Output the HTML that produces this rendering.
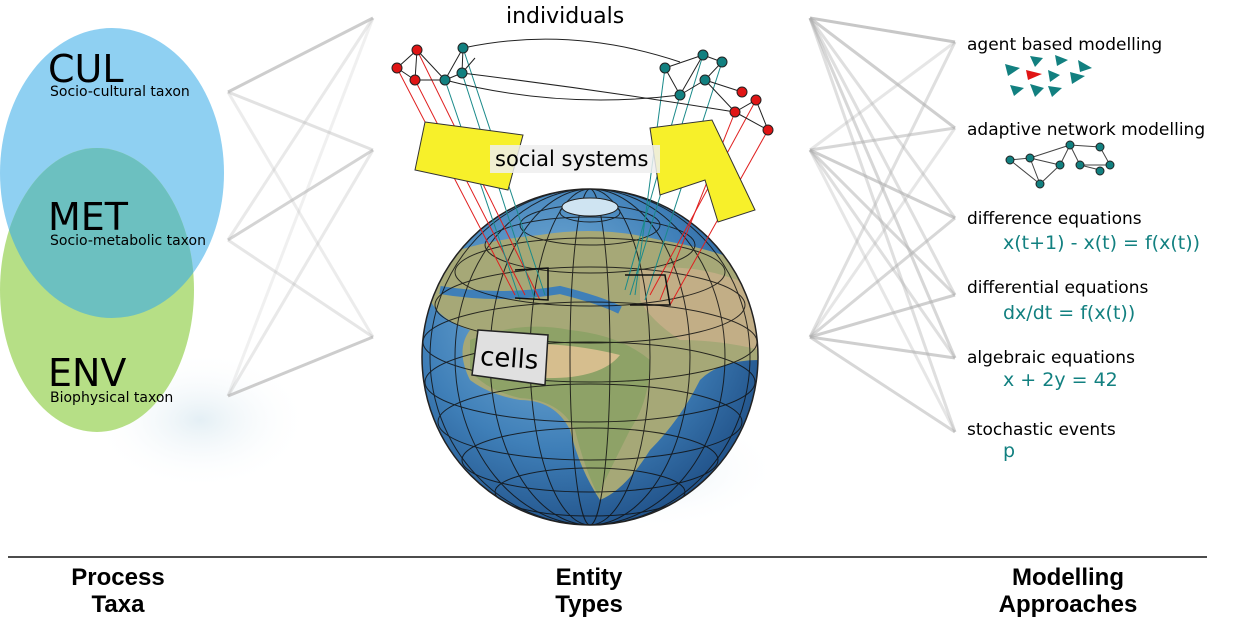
<!DOCTYPE html>
<html><head><meta charset="utf-8">
<style>
html,body{margin:0;padding:0;background:#fff;}
svg{display:block;font-family:"DejaVu Sans","Liberation Sans",sans-serif;}
</style></head>
<body>
<svg width="1236" height="627" viewBox="0 0 1236 627" xmlns="http://www.w3.org/2000/svg">
<defs>
<radialGradient id="globeG" cx="0.4" cy="0.35" r="0.7">
<stop offset="0" stop-color="#7fb6dc"/><stop offset="0.6" stop-color="#3f7fb8"/><stop offset="1" stop-color="#1f4f86"/>
</radialGradient>
<radialGradient id="glow" cx="0.5" cy="0.5" r="0.5">
<stop offset="0" stop-color="#d8e8f0" stop-opacity="0.7"/><stop offset="1" stop-color="#fff" stop-opacity="0"/>
</radialGradient>
<clipPath id="gc"><circle cx="590" cy="357" r="168"/></clipPath>
</defs>

<g>
<ellipse cx="200" cy="420" rx="110" ry="70" fill="url(#glow)"/>
<ellipse cx="112" cy="173" rx="112" ry="145" fill="#8fd0f2"/>
<ellipse cx="97" cy="290" rx="97" ry="142" fill="#b6df86"/>
<clipPath id="cc"><ellipse cx="112" cy="173" rx="112" ry="145"/></clipPath>
<ellipse cx="97" cy="290" rx="97" ry="142" fill="#6cc0c0" clip-path="url(#cc)"/>
<text x="48" y="82" font-size="38" fill="#000">CUL</text>
<text x="50" y="96" font-size="14">Socio-cultural taxon</text>
<text x="48" y="230" font-size="38">MET</text>
<text x="50" y="245" font-size="14">Socio-metabolic taxon</text>
<text x="48" y="386" font-size="38">ENV</text>
<text x="50" y="402" font-size="14">Biophysical taxon</text>
</g>

<g stroke="#b8b8b8" stroke-width="3">
<line x1="228" y1="92" x2="373" y2="18" opacity="0.7"/><line x1="228" y1="92" x2="373" y2="150" opacity="0.4"/><line x1="228" y1="92" x2="373" y2="337" opacity="0.25"/>
<line x1="228" y1="240" x2="373" y2="18" opacity="0.3"/><line x1="228" y1="240" x2="373" y2="150" opacity="0.6"/><line x1="228" y1="240" x2="373" y2="337" opacity="0.35"/>
<line x1="228" y1="396" x2="373" y2="18" opacity="0.2"/><line x1="228" y1="396" x2="373" y2="150" opacity="0.3"/><line x1="228" y1="396" x2="373" y2="337" opacity="0.7"/>
</g>

<g stroke="#b0b0b0" stroke-width="3">
<line x1="810" y1="18" x2="955" y2="42" opacity="0.7"/><line x1="810" y1="18" x2="955" y2="128" opacity="0.6"/><line x1="810" y1="18" x2="955" y2="218" opacity="0.4"/><line x1="810" y1="18" x2="955" y2="295" opacity="0.4"/><line x1="810" y1="18" x2="955" y2="358" opacity="0.5"/><line x1="810" y1="18" x2="955" y2="432" opacity="0.4"/>
<line x1="810" y1="150" x2="955" y2="42" opacity="0.3"/><line x1="810" y1="150" x2="955" y2="128" opacity="0.5"/><line x1="810" y1="150" x2="955" y2="218" opacity="0.6"/><line x1="810" y1="150" x2="955" y2="295" opacity="0.5"/><line x1="810" y1="150" x2="955" y2="358" opacity="0.4"/><line x1="810" y1="150" x2="955" y2="432" opacity="0.3"/>
<line x1="810" y1="337" x2="955" y2="42" opacity="0.4"/><line x1="810" y1="337" x2="955" y2="128" opacity="0.3"/><line x1="810" y1="337" x2="955" y2="218" opacity="0.5"/><line x1="810" y1="337" x2="955" y2="295" opacity="0.6"/><line x1="810" y1="337" x2="955" y2="358" opacity="0.6"/><line x1="810" y1="337" x2="955" y2="432" opacity="0.5"/>
</g>

<g>
<ellipse cx="650" cy="470" rx="130" ry="60" fill="url(#glow)"/>
<circle cx="590" cy="357" r="168" fill="url(#globeG)"/>
<g clip-path="url(#gc)">
<path d="M430,260 Q480,240 540,235 Q600,225 660,240 Q720,250 760,270 L760,360 Q720,360 700,380 Q680,420 650,450 Q625,490 600,500 Q580,470 570,430 Q555,400 520,400 Q490,395 470,380 Q455,350 470,330 Q440,320 430,300Z" fill="#a6a877"/>
<path d="M470,340 Q520,320 570,330 Q620,335 650,360 Q650,400 630,430 Q610,470 598,495 Q585,470 575,430 Q560,400 520,398 Q485,390 470,370Z" fill="#8ea267"/>
<path d="M500,345 Q560,340 620,355 Q600,380 540,378Z" fill="#d6be8e"/>
<path d="M640,270 Q700,260 760,290 L760,350 Q720,340 680,340 Q650,320 640,300Z" fill="#c2ae86"/>
<path d="M440,290 Q500,300 560,290 Q600,300 620,310" stroke="#3f7fb8" stroke-width="8" fill="none"/>
<g stroke="#111" stroke-width="1" fill="none" opacity="0.85">
<ellipse cx="590" cy="357" rx="20" ry="168"/><ellipse cx="590" cy="357" rx="60" ry="168"/><ellipse cx="590" cy="357" rx="100" ry="168"/><ellipse cx="590" cy="357" rx="135" ry="168"/><ellipse cx="590" cy="357" rx="160" ry="168"/>
<ellipse cx="590" cy="212" rx="30" ry="10"/><ellipse cx="590" cy="225" rx="70" ry="20"/><ellipse cx="590" cy="245" rx="105" ry="28"/><ellipse cx="590" cy="272" rx="135" ry="34"/><ellipse cx="590" cy="305" rx="155" ry="38"/><ellipse cx="590" cy="342" rx="167" ry="40"/><ellipse cx="590" cy="382" rx="165" ry="40"/><ellipse cx="590" cy="422" rx="152" ry="38"/><ellipse cx="590" cy="460" rx="128" ry="32"/><ellipse cx="590" cy="492" rx="95" ry="24"/>
</g>
</g>
<circle cx="590" cy="357" r="168" fill="none" stroke="#222" stroke-width="1.5"/>
<ellipse cx="590" cy="207" rx="28" ry="9" fill="#cfe4f2" stroke="#222"/>
<polygon points="478,330 548,335 545,385 472,375" fill="#e0e0e0" stroke="#222" stroke-width="1.5"/>
<text x="480" y="367" font-size="26" transform="rotate(4 510 360)">cells</text>
</g>

<g stroke-width="1">
<g stroke="#e02020"><line x1="397" y1="68" x2="515" y2="295"/><line x1="415" y1="80" x2="525" y2="295"/><line x1="417" y1="50" x2="540" y2="300"/><line x1="735" y1="112" x2="660" y2="300"/><line x1="768" y1="130" x2="670" y2="305"/><line x1="756" y1="100" x2="650" y2="295"/></g>
<g stroke="#1a8a8a"><line x1="463" y1="48" x2="545" y2="295"/><line x1="462" y1="73" x2="535" y2="300"/><line x1="445" y1="80" x2="520" y2="300"/><line x1="703" y1="55" x2="630" y2="295"/><line x1="722" y1="62" x2="645" y2="300"/><line x1="680" y1="95" x2="625" y2="290"/><line x1="665" y1="68" x2="635" y2="295"/></g>
<polyline points="515,270 548,268 548,300 515,298" fill="none" stroke="#111" stroke-width="1.5"/>
<polyline points="625,275 665,275 670,305 630,305" fill="none" stroke="#111" stroke-width="1.5"/>
</g>

<g>
<path d="M425,122 L523,135 L508,190 L415,170Z" fill="#f7f02a" stroke="#333"/>
<path d="M650,128 L712,120 L755,210 L718,222 L705,180 L660,195Z" fill="#f7f02a" stroke="#333"/>
<rect x="490" y="145" width="170" height="28" fill="#eee" opacity="0.85"/>
<text x="495" y="166" font-size="21">social systems</text>
</g>

<g>
<text x="506" y="23" font-size="22">individuals</text>
<g stroke="#222" fill="none" stroke-width="1">
<path d="M463,48 Q570,25 680,62"/><path d="M445,80 Q560,110 680,95"/><path d="M462,73 Q600,90 735,112"/>
<path d="M397,68 L417,50 L415,80 L397,68 M417,50 L445,80 L462,73 L463,48 L445,80 M415,80 L445,80 M462,73 L475,58"/>
<path d="M665,68 L680,95 L703,55 L722,62 L705,80 L680,95 M703,55 L665,68 M705,80 L735,112 L756,100 L768,130 L735,112 M705,80 L742,92"/>
</g>
<g fill="#e01515" stroke="#222"><circle cx="397" cy="68" r="5"/><circle cx="417" cy="50" r="5"/><circle cx="415" cy="80" r="5"/><circle cx="735" cy="112" r="5"/><circle cx="756" cy="100" r="5"/><circle cx="768" cy="130" r="5"/><circle cx="742" cy="92" r="5"/></g>
<g fill="#128080" stroke="#222"><circle cx="463" cy="48" r="5"/><circle cx="462" cy="73" r="5"/><circle cx="445" cy="80" r="5"/><circle cx="703" cy="55" r="5"/><circle cx="722" cy="62" r="5"/><circle cx="680" cy="95" r="5"/><circle cx="665" cy="68" r="5"/><circle cx="705" cy="80" r="5"/></g>
</g>

<g font-size="17">
<text x="967" y="50">agent based modelling</text>
<g fill="#128080">
<polygon points="1005,64 1020,68 1008,76"/><polygon points="1030,56 1043,58 1035,67"/><polygon points="1055,55 1068,60 1057,66"/><polygon points="1078,60 1092,68 1080,72"/>
<polygon points="1048,70 1060,75 1050,82"/><polygon points="1070,72 1085,76 1072,84"/><polygon points="1010,85 1024,88 1014,96"/><polygon points="1030,84 1044,88 1035,97"/><polygon points="1048,86 1062,88 1052,97"/>
<polygon points="1026,70 1042,74 1028,80" fill="#e01515"/>
</g>
<text x="967" y="135">adaptive network modelling</text>
<g stroke="#444" fill="none" stroke-width="1"><path d="M1010,160 L1030,158 L1040,184 L1010,160 M1030,158 L1070,145 L1060,165 L1030,158 M1070,145 L1100,147 L1110,165 L1080,165 L1070,145 M1060,165 L1040,184 M1080,165 L1100,170"/></g>
<g fill="#128080" stroke="#222"><circle cx="1010" cy="160" r="4"/><circle cx="1030" cy="158" r="4"/><circle cx="1040" cy="184" r="4"/><circle cx="1070" cy="145" r="4"/><circle cx="1060" cy="165" r="4"/><circle cx="1100" cy="147" r="4"/><circle cx="1110" cy="165" r="4"/><circle cx="1080" cy="165" r="4"/><circle cx="1100" cy="171" r="4"/></g>
<text x="967" y="224">difference equations</text>
<text x="1003" y="249" font-size="19" fill="#128080">x(t+1) - x(t) = f(x(t))</text>
<text x="967" y="293">differential equations</text>
<text x="1003" y="319" font-size="19" fill="#128080">dx/dt = f(x(t))</text>
<text x="967" y="363">algebraic equations</text>
<text x="1003" y="386" font-size="19" fill="#128080">x + 2y = 42</text>
<text x="967" y="435">stochastic events</text>
<text x="1003" y="457" font-size="19" fill="#128080">p</text>
</g>

<line x1="8" y1="557" x2="1207" y2="557" stroke="#111" stroke-width="1.5"/>
<g font-size="24" font-weight="bold" text-anchor="middle" font-family="Liberation Sans, sans-serif">
<text x="118" y="585">Process</text><text x="118" y="612">Taxa</text>
<text x="589" y="585">Entity</text><text x="589" y="612">Types</text>
<text x="1068" y="585">Modelling</text><text x="1068" y="612">Approaches</text>
</g>
</svg>
</body></html>
